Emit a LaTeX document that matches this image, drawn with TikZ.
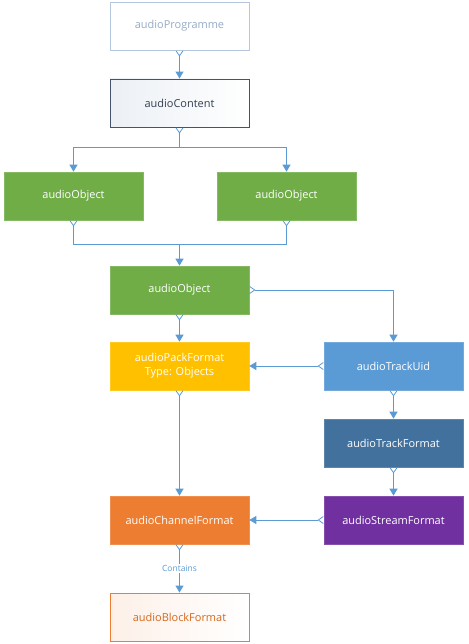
\documentclass[tikz,border=0pt]{standalone}
\usepackage{fontspec}
\setmainfont{Open Sans}
\usetikzlibrary{arrows.meta,positioning}
\definecolor{lnblue}{RGB}{91,155,213}
\definecolor{cgreen}{RGB}{112,173,71}
\definecolor{cyellow}{RGB}{255,192,0}
\definecolor{cblue}{RGB}{91,155,213}
\definecolor{ctrack}{RGB}{65,113,156}
\definecolor{cpurple}{RGB}{112,48,160}
\definecolor{corange}{RGB}{237,125,49}
\definecolor{progborder}{RGB}{180,199,220}
\definecolor{progtext}{RGB}{150,172,198}
\definecolor{contborder}{RGB}{68,84,106}
\definecolor{contfill}{RGB}{236,240,245}
\definecolor{conttext}{RGB}{51,63,80}
\definecolor{blockfill}{RGB}{253,240,232}
\definecolor{blocktext}{RGB}{214,104,30}
\tikzset{
  box/.style={minimum width=139bp, minimum height=48bp, inner sep=0pt, align=center,
    font=\fontsize{11}{14}\selectfont},
  solidbox/.style={box, fill=#1, draw=#1!85!white, text=white, line width=0.6bp},
  conn/.style={draw=lnblue, line width=1bp,
    {Straight Barb[reversed,length=5bp,width=7bp,line width=0.8bp]}-{Triangle[length=7bp,width=8bp]}},
  connend/.style={draw=lnblue, line width=1bp, -{Triangle[length=7bp,width=8bp]}},
}
\begin{document}
\begin{tikzpicture}[x=1bp,y=-1bp]
\useasboundingbox (0,0) rectangle (469,644);
\node[box, draw=progborder, fill=white, text=progtext, line width=0.8bp] (prog) at (179.5,26) {audioProgramme};
\node[box, draw=contborder, left color=contfill, right color=white, text=conttext, line width=0.9bp] (cont) at (179.5,103) {audioContent};
\node[solidbox=cgreen] (objL) at (73.5,196) {audioObject};
\node[solidbox=cgreen] (objR) at (286.5,196) {audioObject};
\node[solidbox=cgreen] (obj) at (179.5,290) {audioObject};
\node[solidbox=cyellow] (pack) at (179.5,366) {audioPackFormat\\Type: Objects};
\node[solidbox=cblue] (uid) at (393.5,366) {audioTrackUid};
\node[solidbox=ctrack] (tfmt) at (393.5,443) {audioTrackFormat};
\node[solidbox=cpurple] (sfmt) at (393.5,520) {audioStreamFormat};
\node[solidbox=corange] (chan) at (179.5,520) {audioChannelFormat};
\node[box, draw=corange, left color=blockfill, right color=white, text=blocktext, line width=0.9bp] (block) at (179.5,617) {audioBlockFormat};

\coordinate (split) at (179.5,148);
\coordinate (merge) at (179.5,244);

\draw[conn] (prog) -- (cont);
\draw[conn] (cont.south) -- (split) -| (objL.north);
\draw[connend] (split) -| (objR.north);
\draw[conn] (objL.south) |- (merge) -- (obj.north);
\draw[draw=lnblue, line width=1bp, {Straight Barb[reversed,length=5bp,width=7bp,line width=0.8bp]}-] (objR.south) |- (merge);
\draw[conn] (obj.east) -| (uid.north);
\draw[conn] (obj) -- (pack);
\draw[conn] (uid) -- (pack);
\draw[conn] (pack) -- (chan);
\draw[conn] (uid) -- (tfmt);
\draw[conn] (tfmt) -- (sfmt);
\draw[conn] (sfmt) -- (chan);
\draw[conn] (chan) -- node[fill=white, inner sep=1bp, text=lnblue, font=\fontsize{8.5}{10}\selectfont] (lbl) {Contains} (block);
\end{tikzpicture}
\end{document}
